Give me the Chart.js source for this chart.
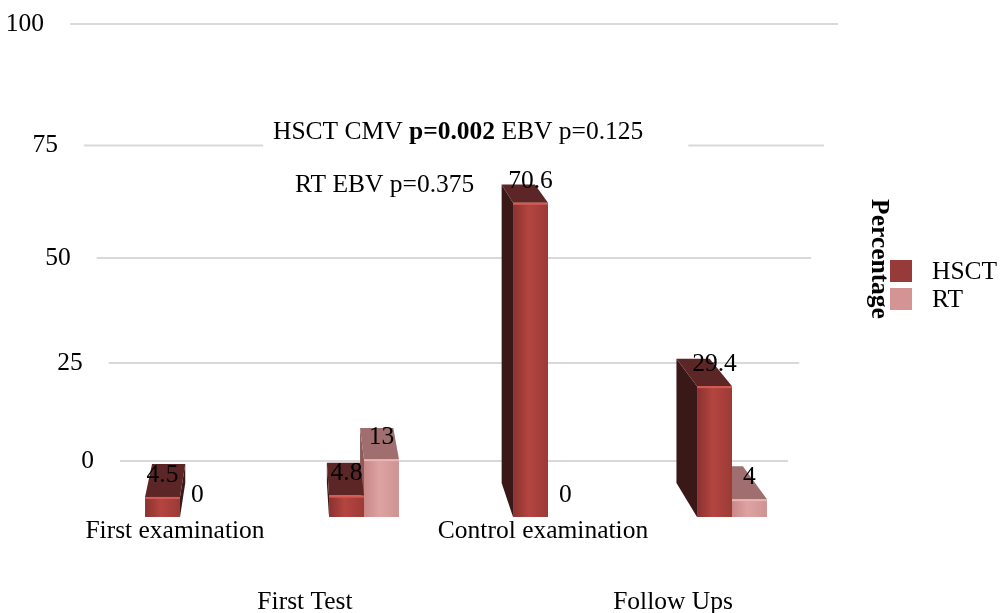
<!DOCTYPE html>
<html>
<head>
<meta charset="utf-8">
<script src="https://cdn.jsdelivr.net/npm/chart.js@4.4.1/dist/chart.umd.min.js"></script>
<style>
html,body{margin:0;padding:0;background:#fff;}
#wrap{width:1000px;height:613px;position:relative;}
</style>
</head>
<body>
<div id="wrap"><canvas id="c" width="1000" height="613"></canvas></div>
<script>
// ---------- data ----------
const categories = ['First examination', 'First Test', 'Control examination', 'Follow Ups'];
const hsctValues = [4.5, 4.8, 70.6, 29.4];
const rtValues = [0, 13, 0, 4];
const yTicks = [0, 25, 50, 75, 100];
const seriesNames = ['HSCT', 'RT'];
const legendTitle = 'Percentage';
const noteLine1 = [['HSCT CMV ', false], ['p=0.002', true], [' EBV p=0.125', false]];
const noteLine2 = 'RT EBV p=0.375';

// ---------- styles ----------
const FONT = '"Liberation Serif", "Times New Roman", serif';
const FS = 25.5;
const palettes = [
  {f0:'#8a3231', f1:'#b4453f', f2:'#9c3a37', top:'#5c2626', side:'#3b1818', hi:'#d65a52', legend:'#973b3a'},
  {f0:'#c98888', f1:'#dda3a3', f2:'#cf9292', top:'#a06e6e', side:'#8c5a5a', hi:'#e8b4b4', legend:'#d49494'}
];

// perspective value scale (back wall of the 3D chart)
const PM = 0.1333, PA = 1 - PM;
class PerspectiveScale extends Chart.LinearScale {
  static id = 'perspective';
  static defaults = Chart.LinearScale.defaults;
  getPixelForDecimal(d) { return super.getPixelForDecimal(PA * d / (1 - PM * d)); }
  getDecimalForPixel(p) { const g = super.getDecimalForPixel(p); return g / (PA + PM * g); }
}
Chart.register(PerspectiveScale);

function drawBox(ctx, x0, x1, yt, yb, pal, vp, s) {
  if (yb - yt < 0.5) return;
  const B = (x, y) => [vp[0] + (x - vp[0]) * s, vp[1] + (y - vp[1]) * s];
  const poly = (pts, fill) => {
    ctx.beginPath(); ctx.moveTo(pts[0][0], pts[0][1]);
    for (let i = 1; i < pts.length; i++) ctx.lineTo(pts[i][0], pts[i][1]);
    ctx.closePath(); ctx.fillStyle = fill; ctx.fill();
  };
  if (x0 > vp[0]) poly([[x0, yt], B(x0, yt), B(x0, yb), [x0, yb]], pal.side);
  if (x1 < vp[0]) poly([[x1, yt], B(x1, yt), B(x1, yb), [x1, yb]], pal.side);
  poly([[x0, yt], [x1, yt], B(x1, yt), B(x0, yt)], pal.top);
  const g = ctx.createLinearGradient(x0, 0, x1, 0);
  g.addColorStop(0, pal.f0); g.addColorStop(0.45, pal.f1); g.addColorStop(1, pal.f2);
  ctx.fillStyle = g; ctx.fillRect(x0, yt, x1 - x0, yb - yt);
  ctx.fillStyle = pal.hi; ctx.fillRect(x0, yt, x1 - x0, Math.min(2, yb - yt));
}

const excel3d = {
  id: 'excel3d',
  beforeDatasetsDraw(chart) {
    const {ctx, chartArea: ca, scales} = chart;
    const y = scales.y;
    const h = ca.bottom - ca.top, w = ca.right - ca.left;
    ctx.save();
    // gridlines and tick labels on the back wall
    yTicks.forEach(v => {
      const py = y.getPixelForValue(v);
      const f = (py - ca.top) / h;
      const x0 = ca.left - 18 + f * 50;
      const x1 = ca.right + 14 - f * 50;
      ctx.strokeStyle = '#d9d9d9'; ctx.lineWidth = 2;
      ctx.beginPath(); ctx.moveTo(x0, py); ctx.lineTo(x1, py); ctx.stroke();
      ctx.fillStyle = '#000'; ctx.font = FS + 'px ' + FONT;
      ctx.textAlign = 'right'; ctx.textBaseline = 'middle';
      ctx.fillText(String(v), x0 - 26, py);
    });
    // notes
    const ny = y.getPixelForValue(75) - 13;
    const nx = ca.left + 185;
    let tw = 0;
    noteLine1.forEach(([t, b]) => { ctx.font = (b ? 'bold ' : '') + FS + 'px ' + FONT; tw += ctx.measureText(t).width; });
    ctx.fillStyle = '#fff';
    ctx.fillRect(nx - 10, ny - 14, tw + 55, 32);
    ctx.textAlign = 'left'; ctx.textBaseline = 'middle'; ctx.fillStyle = '#000';
    let cx = nx;
    noteLine1.forEach(([t, b]) => {
      ctx.font = (b ? 'bold ' : '') + FS + 'px ' + FONT;
      ctx.fillText(t, cx, ny); cx += ctx.measureText(t).width;
    });
    ctx.font = FS + 'px ' + FONT;
    ctx.fillText(noteLine2, ca.left + 207, y.getPixelForValue(75) + 40);

    // 3D bars
    const vp = [ca.left + 0.268 * w, ca.top - 0.425 * h];
    const s = 0.95;
    const bars = [];
    chart.getSortedVisibleDatasetMetas().forEach(meta => {
      meta.data.forEach((el, i) => {
        bars.push({el, pal: palettes[meta.index], v: chart.data.datasets[meta.index].data[i]});
      });
    });
    bars.sort((a, b) => Math.abs(b.el.x - vp[0]) - Math.abs(a.el.x - vp[0]));
    bars.forEach(b => {
      const e = b.el;
      drawBox(ctx, e.x - e.width / 2, e.x + e.width / 2, Math.min(e.y, e.base), Math.max(e.y, e.base), b.pal, vp, s);
    });
    // value labels
    ctx.fillStyle = '#000'; ctx.font = FS + 'px ' + FONT;
    ctx.textAlign = 'center'; ctx.textBaseline = 'middle';
    bars.forEach(b => ctx.fillText(String(b.v), b.el.x, b.el.y - 22));

    // category labels (two staggered rows)
    const xs = scales.x;
    categories.forEach((c, i) => {
      const px = xs.getPixelForValue(i);
      if (i % 2 === 0) ctx.fillText(c, px - 5, ca.bottom + 70);
      else ctx.fillText(c, px - 59, ca.bottom + 141);
    });

    // legend
    const lx = ca.right + 66, ly = ca.top + 236;
    ctx.save();
    ctx.translate(ca.right + 55, ca.top + 235);
    ctx.rotate(Math.PI / 2);
    ctx.font = 'bold ' + FS + 'px ' + FONT;
    ctx.textAlign = 'center'; ctx.textBaseline = 'middle';
    ctx.fillText(legendTitle, 0, 0);
    ctx.restore();
    chart.data.datasets.forEach((ds, i) => {
      ctx.fillStyle = palettes[i].legend;
      ctx.fillRect(lx, ly + i * 28, 22, 22);
      ctx.fillStyle = '#000'; ctx.font = FS + 'px ' + FONT;
      ctx.textAlign = 'left'; ctx.textBaseline = 'middle';
      ctx.fillText(ds.label, lx + 42, ly + 12 + i * 28);
    });
    ctx.restore();
    return false;
  }
};

new Chart(document.getElementById('c'), {
  type: 'bar',
  data: {
    labels: categories,
    datasets: [
      {label: seriesNames[0], data: hsctValues, backgroundColor: palettes[0].legend, yAxisID: 'y2', base: 0},
      {label: seriesNames[1], data: rtValues, backgroundColor: palettes[1].legend, yAxisID: 'y2', base: 0}
    ]
  },
  options: {
    responsive: false,
    animation: false,
    layout: {padding: {left: 88, right: 176, top: 24, bottom: 152}},
    datasets: {bar: {categoryPercentage: 0.38, barPercentage: 1.0, borderWidth: 0}},
    plugins: {legend: {display: false}, tooltip: {enabled: false}},
    scales: {
      x: {type: 'category', display: false, offset: true},
      y: {type: 'perspective', display: false, min: 0, max: 100},
      y2: {type: 'linear', display: false, min: 12.58, max: 110.78}
    }
  },
  plugins: [excel3d]
});
</script>
</body>
</html>
